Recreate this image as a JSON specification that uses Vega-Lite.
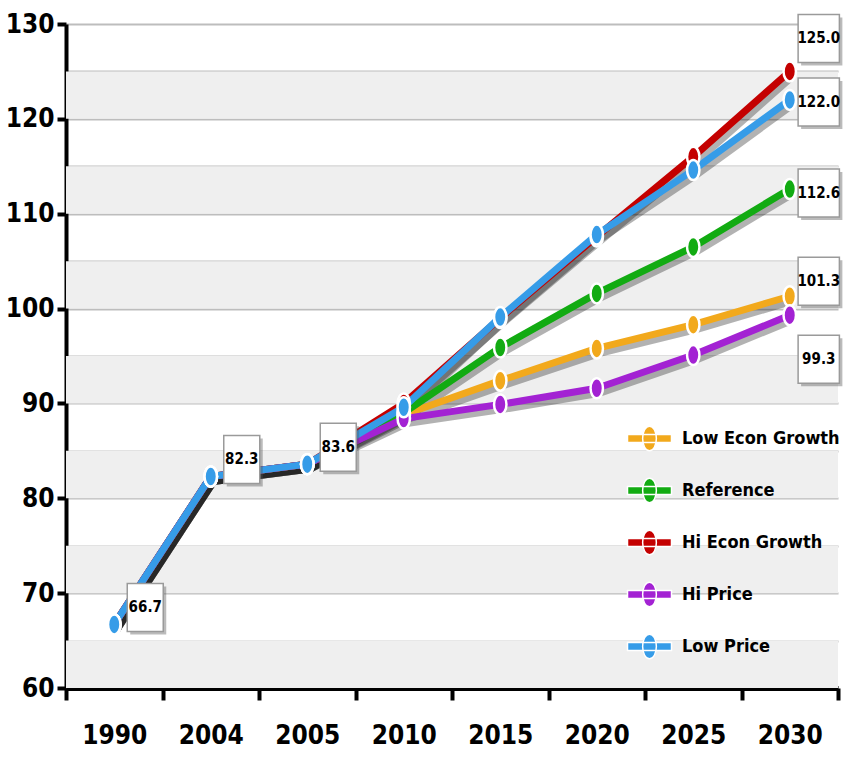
{
  "$schema": "https://vega.github.io/schema/vega-lite/v6.json",
  "width": 772,
  "height": 664,
  "autosize": {"type": "none"},
  "padding": {"left": 66, "top": 24, "right": 10, "bottom": 71},
  "background": "white",
  "config": {"view": {"stroke": null}, "font": "DejaVu Sans Condensed, Liberation Sans, sans-serif"},
  "datasets": {
    "series": [
      {"series": "Low Econ Growth", "year": "1990", "value": 66.7},
      {"series": "Low Econ Growth", "year": "2004", "value": 82.3},
      {"series": "Low Econ Growth", "year": "2005", "value": 83.6},
      {"series": "Low Econ Growth", "year": "2010", "value": 88.8},
      {"series": "Low Econ Growth", "year": "2015", "value": 92.4},
      {"series": "Low Econ Growth", "year": "2020", "value": 95.8},
      {"series": "Low Econ Growth", "year": "2025", "value": 98.3},
      {"series": "Low Econ Growth", "year": "2030", "value": 101.3},
      {"series": "Reference", "year": "1990", "value": 66.7},
      {"series": "Reference", "year": "2004", "value": 82.3},
      {"series": "Reference", "year": "2005", "value": 83.6},
      {"series": "Reference", "year": "2010", "value": 89.0},
      {"series": "Reference", "year": "2015", "value": 95.9},
      {"series": "Reference", "year": "2020", "value": 101.6},
      {"series": "Reference", "year": "2025", "value": 106.5},
      {"series": "Reference", "year": "2030", "value": 112.6},
      {"series": "Hi Econ Growth", "year": "1990", "value": 66.7},
      {"series": "Hi Econ Growth", "year": "2004", "value": 82.3},
      {"series": "Hi Econ Growth", "year": "2005", "value": 83.6},
      {"series": "Hi Econ Growth", "year": "2010", "value": 90.0},
      {"series": "Hi Econ Growth", "year": "2015", "value": 99.0},
      {"series": "Hi Econ Growth", "year": "2020", "value": 107.6},
      {"series": "Hi Econ Growth", "year": "2025", "value": 116.0},
      {"series": "Hi Econ Growth", "year": "2030", "value": 125.0},
      {"series": "Hi Price", "year": "1990", "value": 66.7},
      {"series": "Hi Price", "year": "2004", "value": 82.3},
      {"series": "Hi Price", "year": "2005", "value": 83.6},
      {"series": "Hi Price", "year": "2010", "value": 88.4},
      {"series": "Hi Price", "year": "2015", "value": 89.9},
      {"series": "Hi Price", "year": "2020", "value": 91.6},
      {"series": "Hi Price", "year": "2025", "value": 95.1},
      {"series": "Hi Price", "year": "2030", "value": 99.3},
      {"series": "Low Price", "year": "1990", "value": 66.7},
      {"series": "Low Price", "year": "2004", "value": 82.3},
      {"series": "Low Price", "year": "2005", "value": 83.6},
      {"series": "Low Price", "year": "2010", "value": 89.6},
      {"series": "Low Price", "year": "2015", "value": 99.1},
      {"series": "Low Price", "year": "2020", "value": 107.8},
      {"series": "Low Price", "year": "2025", "value": 114.6},
      {"series": "Low Price", "year": "2030", "value": 122.0}
    ],
    "bands": [
      {"lo": 120, "hi": 125}, {"lo": 110, "hi": 115}, {"lo": 100, "hi": 105},
      {"lo": 90, "hi": 95}, {"lo": 80, "hi": 85}, {"lo": 70, "hi": 75}, {"lo": 60, "hi": 65}
    ]
  },
  "layer": [
    {
      "data": {"name": "bands"},
      "mark": {"type": "rect", "fill": "#efefef"},
      "encoding": {
        "y": {"field": "lo", "type": "quantitative",
          "scale": {"domain": [60, 130], "nice": false, "zero": false},
          "axis": {
            "title": null,
            "values": [60, 65, 70, 75, 80, 85, 90, 95, 100, 105, 110, 115, 120, 125, 130],
            "labelExpr": "datum.value % 10 === 0 ? datum.label : ''",
            "grid": true, "gridColor": "#bdbdbd", "gridWidth": 2,
            "domainColor": "black", "domainWidth": 4,
            "tickColor": {"condition": {"test": "datum.value % 10 === 0", "value": "black"}, "value": "transparent"},
            "tickWidth": 4, "tickSize": 9,
            "labelFont": "DejaVu Sans Condensed, Liberation Sans, sans-serif", "labelFontSize": 26, "labelFontWeight": "bold",
            "labelColor": "black", "labelPadding": 3
          }},
        "y2": {"field": "hi"}
      }
    },
    {
      "data": {"name": "series"},
      "layer": [
        {
          "mark": {"type": "line", "stroke": "black", "opacity": 0.3, "strokeWidth": 7, "xOffset": 3, "yOffset": 5, "strokeJoin": "round"},
          "encoding": {
            "x": {"field": "year", "type": "ordinal", "scale": {"paddingInner": 0, "paddingOuter": 0},
              "axis": {
                "title": null, "tickBand": "extent", "labelAngle": 0, "grid": false,
                "domainColor": "black", "domainWidth": 5,
                "tickColor": "black", "tickWidth": 4, "tickSize": 12,
                "labelFont": "DejaVu Sans Condensed, Liberation Sans, sans-serif", "labelFontSize": 26, "labelFontWeight": "bold",
                "labelColor": "black", "labelPadding": 22
              }},
            "y": {"field": "value", "type": "quantitative"},
            "detail": {"field": "series"}
          }
        },
        {
          "mark": {"type": "line", "strokeWidth": 7, "strokeJoin": "round"},
          "encoding": {
            "x": {"field": "year", "type": "ordinal"},
            "y": {"field": "value", "type": "quantitative"},
            "stroke": {"field": "series", "type": "nominal", "legend": null,
              "scale": {"domain": ["Low Price", "Hi Price", "Hi Econ Growth", "Reference", "Low Econ Growth"],
                "range": ["#369ce8", "#a322d3", "#c40000", "#12ab12", "#f2a91c"]}}
          }
        },
        {
          "mark": {"type": "point", "filled": true, "opacity": 1, "stroke": "white", "strokeWidth": 2.5,
            "shape": "M0,-1A0.62,1 0 1,1 0,1A0.62,1 0 1,1 0,-1Z", "size": 400},
          "encoding": {
            "x": {"field": "year", "type": "ordinal"},
            "y": {"field": "value", "type": "quantitative"},
            "fill": {"field": "series", "type": "nominal",
              "scale": {"domain": ["Low Econ Growth", "Reference", "Hi Econ Growth", "Hi Price", "Low Price"],
                "range": ["#f2a91c", "#12ab12", "#c40000", "#a322d3", "#369ce8"]},
              "legend": {
                "title": null, "orient": "none", "legendX": 569, "legendY": 400, "padding": 0,
                "symbolType": "M-1.6,-0.3L1.6,-0.3L1.6,0.3L-1.6,0.3Z M0,-0.9A0.5,0.9 0 1,1 0,0.9A0.5,0.9 0 1,1 0,-0.9Z",
                "symbolSize": 756, "symbolStrokeColor": "white", "symbolStrokeWidth": 1.5, "symbolOpacity": 1,
                "labelFont": "DejaVu Sans Condensed, Liberation Sans, sans-serif", "labelFontSize": 18, "labelFontWeight": "bold",
                "labelColor": "black", "labelOffset": 18, "rowPadding": 21, "labelLimit": 300
              }}
          }
        },
        {
          "transform": [{"filter": "datum.series === 'Low Price' && (datum.year === '1990' || datum.year === '2004' || datum.year === '2005')"}],
          "encoding": {
            "x": {"field": "year", "type": "ordinal"},
            "y": {"field": "value", "type": "quantitative"}
          },
          "layer": [
            {"mark": {"type": "point", "filled": true, "fill": "#555", "opacity": 0.4, "strokeWidth": 0,
              "shape": "M-0.75,-1L0.75,-1L0.75,1L-0.75,1Z", "size": 2304, "xOffset": 34, "yOffset": -14}},
            {"mark": {"type": "point", "filled": true, "fill": "white", "opacity": 1, "stroke": "#9a9a9a", "strokeWidth": 1.5,
              "shape": "M-0.75,-1L0.75,-1L0.75,1L-0.75,1Z", "size": 2304, "xOffset": 31, "yOffset": -17}},
            {"mark": {"type": "text", "dx": 31, "dy": -17, "fontSize": 15, "fontWeight": "bold", "font": "DejaVu Sans Condensed, Liberation Sans, sans-serif",
              "align": "center", "baseline": "middle", "color": "black"},
              "encoding": {"text": {"field": "value", "type": "quantitative", "format": ".1f"}}}
          ]
        },
        {
          "transform": [{"filter": "datum.year === '2030' && datum.series === 'Hi Econ Growth'"}],
          "encoding": {"x": {"field": "year", "type": "ordinal"}, "y": {"field": "value", "type": "quantitative"}},
          "layer": [
            {"mark": {"type": "point", "filled": true, "fill": "#555", "opacity": 0.4, "strokeWidth": 0,
              "shape": "M-0.86,-1L0.86,-1L0.86,1L-0.86,1Z", "size": 2304, "xOffset": 32, "yOffset": -30}},
            {"mark": {"type": "point", "filled": true, "fill": "white", "opacity": 1, "stroke": "#9a9a9a", "strokeWidth": 1.5,
              "shape": "M-0.86,-1L0.86,-1L0.86,1L-0.86,1Z", "size": 2304, "xOffset": 29, "yOffset": -33}},
            {"mark": {"type": "text", "dx": 29, "dy": -33, "fontSize": 15, "fontWeight": "bold", "font": "DejaVu Sans Condensed, Liberation Sans, sans-serif",
              "align": "center", "baseline": "middle", "color": "black"},
              "encoding": {"text": {"field": "value", "type": "quantitative", "format": ".1f"}}}
          ]
        },
        {
          "transform": [{"filter": "datum.year === '2030' && datum.series === 'Low Price'"}],
          "encoding": {"x": {"field": "year", "type": "ordinal"}, "y": {"field": "value", "type": "quantitative"}},
          "layer": [
            {"mark": {"type": "point", "filled": true, "fill": "#555", "opacity": 0.4, "strokeWidth": 0,
              "shape": "M-0.86,-1L0.86,-1L0.86,1L-0.86,1Z", "size": 2304, "xOffset": 32, "yOffset": 5}},
            {"mark": {"type": "point", "filled": true, "fill": "white", "opacity": 1, "stroke": "#9a9a9a", "strokeWidth": 1.5,
              "shape": "M-0.86,-1L0.86,-1L0.86,1L-0.86,1Z", "size": 2304, "xOffset": 29, "yOffset": 2}},
            {"mark": {"type": "text", "dx": 29, "dy": 2, "fontSize": 15, "fontWeight": "bold", "font": "DejaVu Sans Condensed, Liberation Sans, sans-serif",
              "align": "center", "baseline": "middle", "color": "black"},
              "encoding": {"text": {"field": "value", "type": "quantitative", "format": ".1f"}}}
          ]
        },
        {
          "transform": [{"filter": "datum.year === '2030' && datum.series === 'Reference'"}],
          "encoding": {"x": {"field": "year", "type": "ordinal"}, "y": {"field": "value", "type": "quantitative"}},
          "layer": [
            {"mark": {"type": "point", "filled": true, "fill": "#555", "opacity": 0.4, "strokeWidth": 0,
              "shape": "M-0.86,-1L0.86,-1L0.86,1L-0.86,1Z", "size": 2304, "xOffset": 32, "yOffset": 7}},
            {"mark": {"type": "point", "filled": true, "fill": "white", "opacity": 1, "stroke": "#9a9a9a", "strokeWidth": 1.5,
              "shape": "M-0.86,-1L0.86,-1L0.86,1L-0.86,1Z", "size": 2304, "xOffset": 29, "yOffset": 4}},
            {"mark": {"type": "text", "dx": 29, "dy": 4, "fontSize": 15, "fontWeight": "bold", "font": "DejaVu Sans Condensed, Liberation Sans, sans-serif",
              "align": "center", "baseline": "middle", "color": "black"},
              "encoding": {"text": {"field": "value", "type": "quantitative", "format": ".1f"}}}
          ]
        },
        {
          "transform": [{"filter": "datum.year === '2030' && datum.series === 'Low Econ Growth'"}],
          "encoding": {"x": {"field": "year", "type": "ordinal"}, "y": {"field": "value", "type": "quantitative"}},
          "layer": [
            {"mark": {"type": "point", "filled": true, "fill": "#555", "opacity": 0.4, "strokeWidth": 0,
              "shape": "M-0.86,-1L0.86,-1L0.86,1L-0.86,1Z", "size": 2304, "xOffset": 32, "yOffset": -12}},
            {"mark": {"type": "point", "filled": true, "fill": "white", "opacity": 1, "stroke": "#9a9a9a", "strokeWidth": 1.5,
              "shape": "M-0.86,-1L0.86,-1L0.86,1L-0.86,1Z", "size": 2304, "xOffset": 29, "yOffset": -15}},
            {"mark": {"type": "text", "dx": 29, "dy": -15, "fontSize": 15, "fontWeight": "bold", "font": "DejaVu Sans Condensed, Liberation Sans, sans-serif",
              "align": "center", "baseline": "middle", "color": "black"},
              "encoding": {"text": {"field": "value", "type": "quantitative", "format": ".1f"}}}
          ]
        },
        {
          "transform": [{"filter": "datum.year === '2030' && datum.series === 'Hi Price'"}],
          "encoding": {"x": {"field": "year", "type": "ordinal"}, "y": {"field": "value", "type": "quantitative"}},
          "layer": [
            {"mark": {"type": "point", "filled": true, "fill": "#555", "opacity": 0.4, "strokeWidth": 0,
              "shape": "M-0.86,-1L0.86,-1L0.86,1L-0.86,1Z", "size": 2304, "xOffset": 32, "yOffset": 47}},
            {"mark": {"type": "point", "filled": true, "fill": "white", "opacity": 1, "stroke": "#9a9a9a", "strokeWidth": 1.5,
              "shape": "M-0.86,-1L0.86,-1L0.86,1L-0.86,1Z", "size": 2304, "xOffset": 29, "yOffset": 44}},
            {"mark": {"type": "text", "dx": 29, "dy": 44, "fontSize": 15, "fontWeight": "bold", "font": "DejaVu Sans Condensed, Liberation Sans, sans-serif",
              "align": "center", "baseline": "middle", "color": "black"},
              "encoding": {"text": {"field": "value", "type": "quantitative", "format": ".1f"}}}
          ]
        }
      ]
    }
  ]
}
